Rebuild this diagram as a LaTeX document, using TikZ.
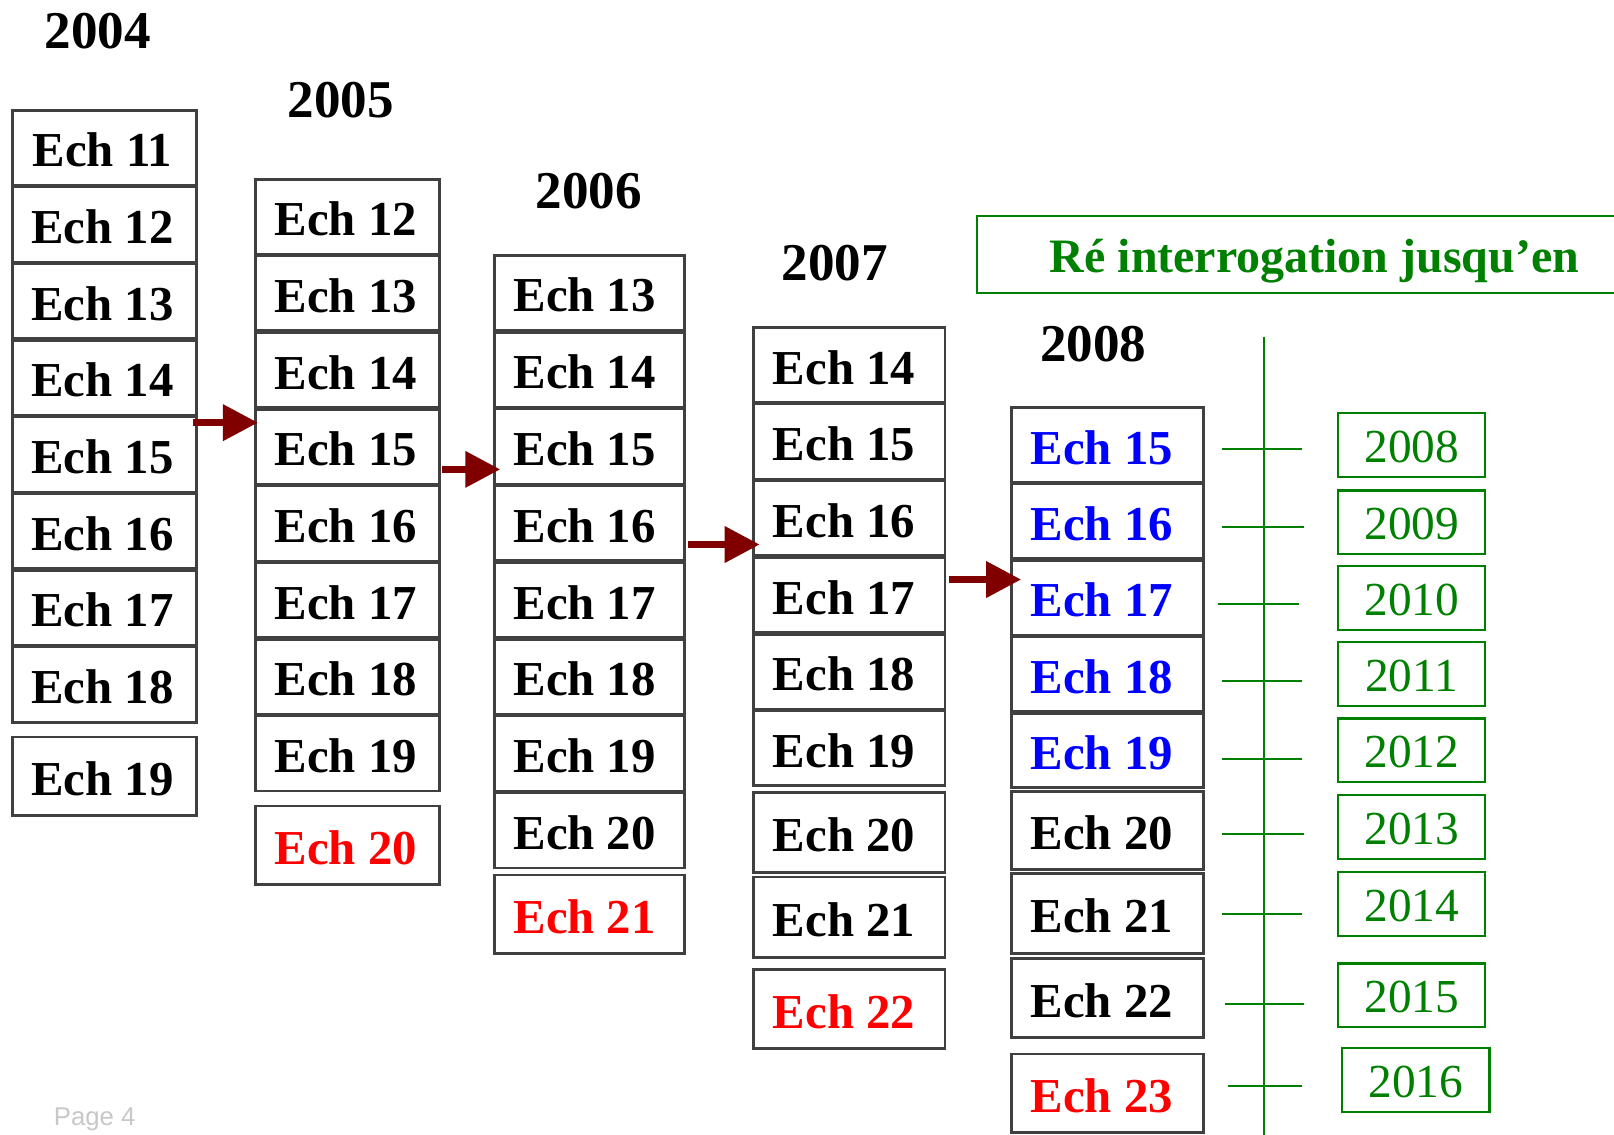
\documentclass[tikz,border=0pt]{standalone}
\usepackage{fontspec}
\setmainfont{Liberation Serif}
\setsansfont{Liberation Sans}
\usetikzlibrary{arrows.meta}
\definecolor{boxgray}{HTML}{404040}
\definecolor{grn}{HTML}{008000}
\definecolor{arrred}{HTML}{800000}
\definecolor{ired}{HTML}{FF0000}
\definecolor{iblue}{HTML}{0000FF}
\definecolor{pagegray}{HTML}{C8C8C8}
\begin{document}
\begin{tikzpicture}[x=0.5pt,y=-0.5pt,
  ech/.style={draw=boxgray, line width=1.4pt, fill=white, inner sep=0pt,
    font=\fontsize{23.7}{23.7}\selectfont\bfseries, minimum height=36.5pt,
    text height=18.6pt, text depth=0pt},
  lsh/.style={execute at begin node={\hskip-#1}},
  yr/.style={font=\fontsize{25.8}{25.8}\selectfont\bfseries, inner sep=0pt},
  gbox/.style={draw=grn, line width=1pt, inner sep=0pt, text=grn,
    font=\fontsize{23}{23}\selectfont, minimum width=71.5pt, minimum height=31pt,
    text height=17pt, text depth=0pt},
  arr/.style={draw=arrred, line width=3.4pt, -{Triangle[length=17pt,width=17pt,fill=arrred]}},
  gline/.style={draw=grn, line width=1pt}]
\useasboundingbox (0,0) rectangle (1568,1102);
\fill[white] (0,0) rectangle (1568,1102);

% year labels
\node[yr] (y2004) at (95,30) {2004};
\node[yr] (y2005) at (331,97) {2005};
\node[yr] (y2006) at (572,186) {2006};
\node[yr] (y2007) at (811,256) {2007};
\node[yr] (y2008) at (1062,334) {2008};

% column 2004
\foreach \i in {0,...,7}{
  \pgfmathtruncatemacro\n{11+\i}
  \node[ech, lsh=2pt, minimum width=89.5pt] (a\n) at (101.5,{143.5+74.5*\i}) {Ech \n};
}
\node[ech, lsh=2pt, minimum width=89.5pt, minimum height=38pt] (a19) at (101.5,754) {Ech 19};

% column 2005
\foreach \i in {0,...,7}{
  \pgfmathtruncatemacro\n{12+\i}
  \node[ech, lsh=1.5pt, minimum width=89.5pt] (b\n) at (337.5,{210.5+74.5*\i}) {Ech \n};
}
\node[ech, lsh=1.5pt, minimum width=89.5pt, minimum height=38pt, text=ired] (b20) at (337.5,821) {Ech 20};

% column 2006
\foreach \i in {0,...,7}{
  \pgfmathtruncatemacro\n{13+\i}
  \node[ech, lsh=4.5pt, minimum width=92.5pt] (c\n) at (572.5,{284.5+74.6*\i}) {Ech \n};
}
\node[ech, lsh=4.5pt, minimum width=92.5pt, minimum height=38pt, text=ired] (c21) at (572.5,888) {Ech 21};

% column 2007
\foreach \i in {0,...,5}{
  \pgfmathtruncatemacro\n{14+\i}
  \node[ech, lsh=5pt, minimum width=93pt] (d\n) at (825,{354.5+74.5*\i}) {Ech \n};
}
\node[ech, lsh=5pt, minimum width=93pt, minimum height=39pt] (d20) at (825,809) {Ech 20};
\node[ech, lsh=5pt, minimum width=93pt, minimum height=39pt] (d21) at (825,891) {Ech 21};
\node[ech, lsh=5pt, minimum width=93pt, minimum height=38.5pt, text=ired] (d22) at (825,980.5) {Ech 22};

% column 2008
\foreach \i in {0,...,4}{
  \pgfmathtruncatemacro\n{15+\i}
  \node[ech, lsh=5.5pt, minimum width=93pt, minimum height=36.25pt, text=iblue] (e\n) at (1076,{432.25+74.2*\i}) {Ech \n};
}
\node[ech, lsh=5.5pt, minimum width=93pt, minimum height=38pt] (e20) at (1076,807) {Ech 20};
\node[ech, lsh=5.5pt, minimum width=93pt, minimum height=38.5pt] (e21) at (1076,887.5) {Ech 21};
\node[ech, lsh=5.5pt, minimum width=93pt, minimum height=38.5pt] (e22) at (1076,969.5) {Ech 22};
\node[ech, lsh=5.5pt, minimum width=93pt, minimum height=38pt, text=ired] (e23) at (1076,1062) {Ech 23};

% arrows
\coordinate (s1) at (187.5,410.6); \coordinate (t1) at (250.6,410.6);
\coordinate (s2) at (429,456);     \coordinate (t2) at (486,456);
\coordinate (s3) at (668,529);     \coordinate (t3) at (738,529);
\coordinate (s4) at (922,563);     \coordinate (t4) at (992,563);
\draw[arr] (s1) -- (t1);
\draw[arr] (s2) -- (t2);
\draw[arr] (s3) -- (t3);
\draw[arr] (s4) -- (t4);

% header
\node[draw=grn, line width=1pt, inner sep=0pt, text=grn,
  font=\fontsize{23.3}{23.3}\selectfont\bfseries,
  text height=17.5pt, text depth=0pt,
  minimum width=328pt, minimum height=37.5pt] (hdr) at (1277,247.5) {Ré interrogation jusqu’en};

% timeline
\coordinate (ltop) at (1228,327);
\coordinate (lbot) at (1228,1110);
\draw[gline] (ltop) -- (lbot);
\foreach \y/\a/\b in {436/1187/1265, 512/1187/1267, 587/1183/1262, 662/1187/1265,
  737/1187/1265, 810/1187/1267, 888/1187/1265, 975/1190/1267, 1055/1193/1265}{
  \draw[gline] (\a,\y) -- (\b,\y);
}
\node[gbox] (g2008) at (1371.5,432) {2008};
\node[gbox] (g2009) at (1371.5,507.5) {2009};
\node[gbox] (g2010) at (1371.5,581) {2010};
\node[gbox] (g2011) at (1371.5,655) {2011};
\node[gbox] (g2012) at (1371.5,729) {2012};
\node[gbox] (g2013) at (1371.5,803.5) {2013};
\node[gbox] (g2014) at (1371.5,878) {2014};
\node[gbox] (g2015) at (1371.5,967) {2015};
\node[gbox] (g2016) at (1375.5,1049) {2016};

% page label
\node[font=\sffamily\fontsize{12.5}{12.5}\selectfont, text=pagegray, inner sep=0pt] (pg) at (92,1087) {Page 4};
\end{tikzpicture}
\end{document}
